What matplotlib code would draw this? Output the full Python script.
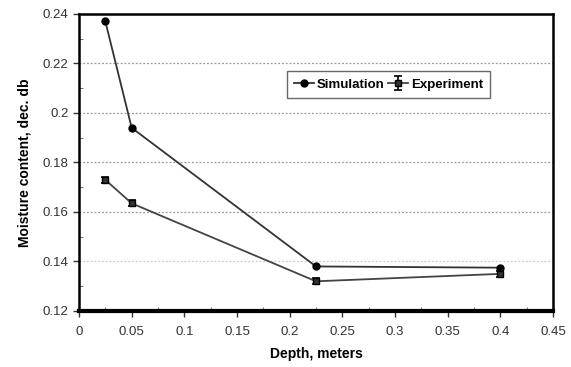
import numpy as np
import matplotlib
matplotlib.use('Agg')
import matplotlib.pyplot as plt
from matplotlib.ticker import MultipleLocator

# Depth (m) and moisture content for both series
depth = [0.025, 0.05, 0.225, 0.4]
simulation = [0.237, 0.194, 0.138, 0.1375]
experiment = [0.173, 0.1635, 0.132, 0.135]
experiment_err = [0.0012, 0.0012, 0.0012, 0.0012]

x_ticks = [0, 0.05, 0.1, 0.15, 0.2, 0.25, 0.3, 0.35, 0.4, 0.45]
x_labels = ['0', '0.05', '0.1', '0.15', '0.2', '0.25', '0.3', '0.35', '0.4', '0.45']
y_ticks = [0.12, 0.14, 0.16, 0.18, 0.2, 0.22, 0.24]
y_labels = ['0.12', '0.14', '0.16', '0.18', '0.2', '0.22', '0.24']

plt.rcParams['font.family'] = ['Liberation Sans', 'DejaVu Sans']

fig = plt.figure(figsize=(5.71, 3.67), dpi=100)
ax = fig.add_axes([0.1384, 0.1526, 0.83, 0.8093])

# Dotted horizontal grid (the 0.14 line is fainter)
for y in y_ticks[1:-1]:
    c = '#cccccc' if y == 0.14 else '#999999'
    ax.axhline(y, color=c, lw=0.9, ls=(0, (1.5, 1.5)), zorder=0)

ax.plot(depth, simulation, color='#333333', lw=1.3, marker='o', ms=5,
        mfc='black', mec='black', label='Simulation', zorder=3)
ax.errorbar(depth, experiment, yerr=experiment_err, color='#444444', lw=1.3,
            marker='s', ms=4, mfc='#333333', mec='black', ecolor='black',
            elinewidth=1.2, capsize=3, capthick=1.2, label='Experiment', zorder=3)

ax.set_xlim(0, 0.45)
ax.set_ylim(0.12, 0.24)
ax.set_xticks(x_ticks)
ax.set_xticklabels(x_labels)
ax.set_yticks(y_ticks)
ax.set_yticklabels(y_labels)
ax.xaxis.set_minor_locator(MultipleLocator(0.025))
ax.yaxis.set_minor_locator(MultipleLocator(0.01))
ax.tick_params(axis='both', which='major', direction='out', length=4, width=1,
               labelsize=9.5, colors='#333333')
ax.tick_params(axis='both', which='minor', direction='in', length=3, width=0.8,
               colors='#777777')
ax.tick_params(axis='x', pad=7)

for side in ['left', 'top', 'right']:
    ax.spines[side].set_linewidth(1.8)
ax.spines['bottom'].set_linewidth(3)

ax.set_xlabel('Depth, meters', fontsize=10, fontweight='bold', labelpad=6)
ax.set_ylabel('Moisture content, dec. db', fontsize=10, fontweight='bold', labelpad=8)

leg = ax.legend(loc='upper left', bbox_to_anchor=(0.425, 0.83), ncol=2,
                frameon=True, fancybox=False, edgecolor='#444444',
                prop={'weight': 'bold', 'size': 9.5}, handlelength=1.5,
                handletextpad=0.2, columnspacing=0.3, borderpad=0.55)
leg.get_frame().set_linewidth(1.0)

fig.savefig('out.png', dpi=100)
